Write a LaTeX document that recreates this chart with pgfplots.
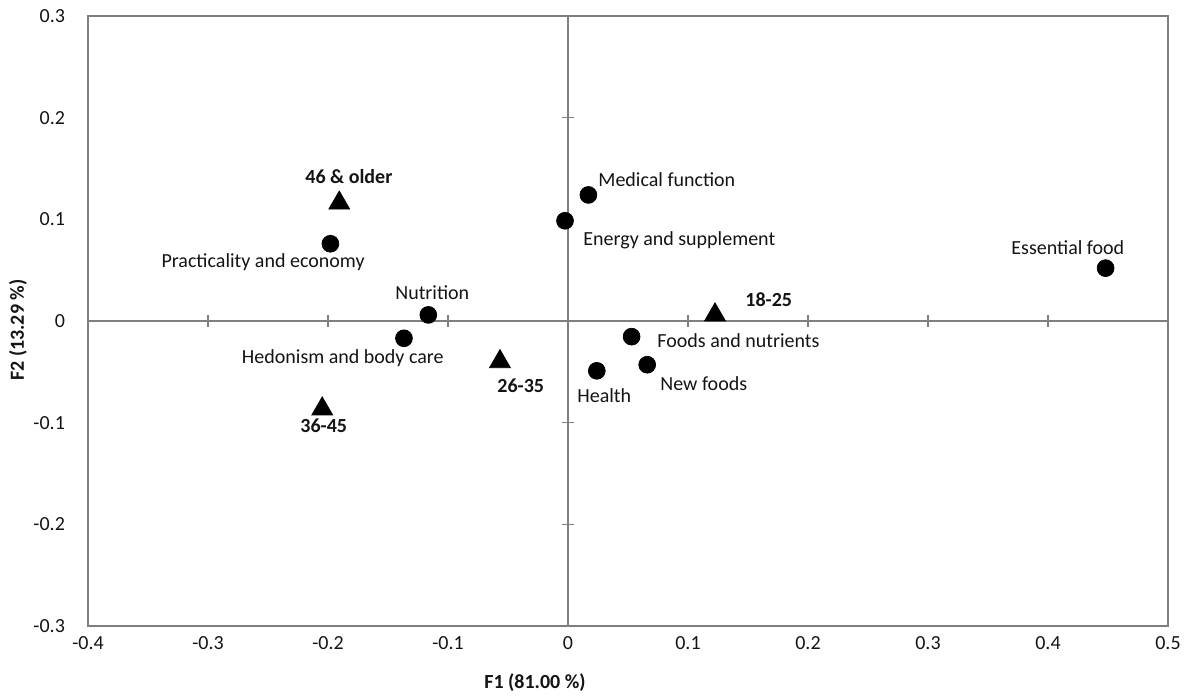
\documentclass[border=0pt]{standalone}
\usepackage{pgfplots}
\usepackage{pgfplotstable}
\pgfplotsset{compat=1.18}
\usepackage{fontspec}
\setmainfont{Carlito}
\definecolor{axisgray}{HTML}{7F7F7F}
\definecolor{txt}{HTML}{141414}
\pgfplotstableread{
x y
0.017 0.124
-0.0025 0.0986
-0.198 0.076
0.448 0.052
-0.1164 0.006
-0.1367 -0.017
0.053 -0.0154
0.066 -0.043
0.024 -0.049
}\circles
\pgfplotstableread{
x y
-0.1906 0.116
0.1225 0.006
-0.0567 -0.040
-0.2048 -0.0865
}\triangles
\begin{document}
\fontsize{10}{12}\selectfont
\begin{tikzpicture}
\begin{axis}[
  scale only axis, width=540pt, height=305pt,
  xmin=-0.4, xmax=0.5, ymin=-0.3, ymax=0.3,
  xtick={-0.4,-0.3,-0.2,-0.1,0,0.1,0.2,0.3,0.4,0.5},
  ytick={-0.3,-0.2,-0.1,0,0.1,0.2,0.3},
  xticklabels={-0.4,-0.3,-0.2,-0.1,0,0.1,0.2,0.3,0.4,0.5},
  yticklabels={-0.3,-0.2,-0.1,0,0.1,0.2,0.3},
  major tick length=0pt,
  axis line style={draw=axisgray, line width=1pt},
  ticklabel style={font=\fontsize{10}{12}\selectfont, text=txt},
  xticklabel style={yshift=-1.5pt},
  yticklabel style={xshift=-8pt},
  clip=false,
]
\addplot[axisgray, line width=1pt] coordinates {(-0.4,0) (0.5,0)};
\addplot[axisgray, line width=1pt] coordinates {(0,-0.3) (0,0.3)};
\addplot[only marks, mark=|, mark size=3pt, mark options={draw=axisgray, line width=0.8pt}]
  coordinates {(-0.3,0) (-0.2,0) (-0.1,0) (0.1,0) (0.2,0) (0.3,0) (0.4,0)};
\addplot[only marks, mark=-, mark size=3pt, mark options={draw=axisgray, line width=0.8pt}]
  coordinates {(0,-0.2) (0,-0.1) (0,0.1) (0,0.2)};
\addplot[only marks, mark=*, mark size=4.2pt, mark options={fill=black, draw=black}] table[x=x,y=y] {\circles};
\addplot[only marks, mark=triangle*, mark size=6pt, mark options={fill=black, draw=black}] table[x=x,y=y] {\triangles};
\begin{scope}[every node/.style={inner sep=0pt, text=txt}]
\node[anchor=west] at (axis cs:0.025,0.1386) {Medical function};
\node[anchor=west] at (axis cs:0.0125,0.0796) {Energy and supplement};
\node[anchor=west, font=\bfseries] at (axis cs:0.1475,0.0206) {18-25};
\node[anchor=west] at (axis cs:0.0742,-0.0194) {Foods and nutrients};
\node[anchor=west] at (axis cs:0.0767,-0.062) {New foods};
\node[anchor=west] at (axis cs:0.0075,-0.0737) {Health};
\node[anchor=west, font=\bfseries] at (axis cs:-0.0592,-0.0639) {26-35};
\node[anchor=west, font=\bfseries] at (axis cs:-0.2233,-0.1032) {36-45};
\node[anchor=east] at (axis cs:-0.1033,-0.0364) {Hedonism and body care};
\node[anchor=west] at (axis cs:-0.1442,0.0275) {Nutrition};
\node[anchor=east] at (axis cs:-0.1692,0.0583) {Practicality and economy};
\node[anchor=west, font=\bfseries] at (axis cs:-0.2192,0.1419) {46 \& older};
\node[anchor=west] at (axis cs:0.3692,0.0721) {Essential food};
\end{scope}
\node[font=\bfseries, text=txt] at ([yshift=-28.5pt]axis cs:-0.0275,-0.3) {F1 (81.00 \%)};
\node[font=\bfseries, text=txt, rotate=90] at ([xshift=-35pt]axis cs:-0.4,-0.009) {F2 (13.29 \%)};
\coordinate (SW) at (rel axis cs:0,0);
\coordinate (NE) at (rel axis cs:1,1);
\end{axis}
\pgfresetboundingbox
\useasboundingbox ([shift={(-44pt,-35pt)}]SW) rectangle ([shift={(11pt,8pt)}]NE);
\end{tikzpicture}
\end{document}
